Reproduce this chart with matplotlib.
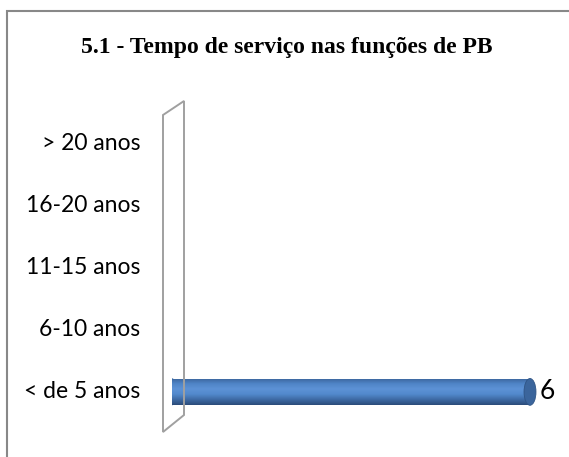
import matplotlib
matplotlib.use("Agg")
import matplotlib.pyplot as plt
import numpy as np
from matplotlib.patches import Ellipse, Polygon, Rectangle
from matplotlib.colors import LinearSegmentedColormap

title = "5.1 - Tempo de serviço nas funções de PB"
categories = ["< de 5 anos", "6-10 anos", "11-15 anos", "16-20 anos", "> 20 anos"]
values = [6, 0, 0, 0, 0]

W, H = 569, 457
fig = plt.figure(figsize=(W / 100, H / 100), dpi=100)
fig.patch.set_facecolor("white")

def px(x0, y0, w, h):
    return [x0 / W, 1 - (y0 + h) / H, w / W, h / H]

# frame
fig.add_artist(Rectangle((7 / W, 0 - 0.01), 1.02, 1 - 11 / H + 0.01, transform=fig.transFigure,
                         fill=False, edgecolor="#888888", linewidth=1.5))

fig.text(287 / W, 1 - 48 / H, title, ha="center", va="center",
         fontfamily="Liberation Serif", fontweight="bold", fontsize=17)

# axes: x=0 at px 172, 6 at px 530 ; y: -0.5 at px 423, 4.5 at px 112
ppu = (530 - 172) / 6
xmax = 6.6
ax = fig.add_axes(px(172, 112, ppu * xmax, 423 - 112))
ax.set_xlim(0, xmax)
ax.set_ylim(-0.5, len(categories) - 0.5)
ax.axis("off")

# wall (decoration)
wall = Polygon([(163 / W, 1 - 115 / H), (184 / W, 1 - 101 / H), (184 / W, 1 - 415 / H),
                (163 / W, 1 - 432 / H)], closed=True, fill=False, edgecolor="#a0a0a0",
               linewidth=1.4, transform=fig.transFigure)
fig.add_artist(wall)

bar_h = 0.43
cmap = LinearSegmentedColormap.from_list("cyl", ["#3a639a", "#4f84c6", "#5d92d6", "#5289cc", "#3e6aa4", "#2b4c7a"])
grad = np.linspace(0, 1, 100).reshape(-1, 1)
cap_w = 0.2

bars = ax.barh(range(len(categories)), values, height=bar_h, color="#4F81BD", linewidth=0, zorder=2)
for b, v, yi in zip(bars, values, range(len(categories))):
    if v <= 0:
        continue
    im = ax.imshow(grad, extent=(0, v, yi - bar_h / 2, yi + bar_h / 2), origin="upper",
                   aspect="auto", cmap=cmap, zorder=3)
    im.set_clip_path(b)
    le = Ellipse((0, yi), cap_w, bar_h, facecolor="#4F81BD", edgecolor="none", zorder=2)
    ax.add_patch(le)
    im2 = ax.imshow(grad, extent=(-cap_w, v, yi - bar_h / 2, yi + bar_h / 2), origin="upper",
                    aspect="auto", cmap=cmap, zorder=3)
    im2.set_clip_path(le)
    ax.add_patch(Ellipse((v, yi), cap_w, bar_h, facecolor="#3b659c", edgecolor="#2f5485",
                         linewidth=0.6, zorder=4))
    ax.text(v + 0.16, yi, str(v), va="center", ha="left", fontsize=19,
            fontfamily="Lato", color="black", zorder=5)
ax.set_xlim(0, xmax)
ax.set_ylim(-0.5, len(categories) - 0.5)

for yi, c in enumerate(categories):
    ax.text(-32 / ppu, yi, c, ha="right", va="center", fontsize=16.5,
            fontfamily="Lato", color="black", clip_on=False)

fig.savefig("out.png", dpi=100, facecolor="white")
